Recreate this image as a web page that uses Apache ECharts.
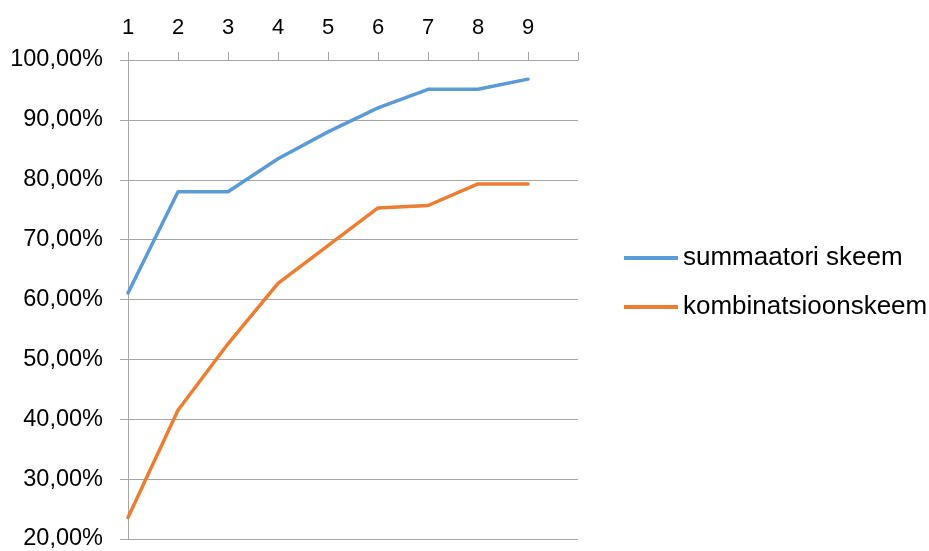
<!DOCTYPE html>
<html>
<head>
<meta charset="utf-8">
<script src="https://cdn.jsdelivr.net/npm/echarts@6/dist/echarts.min.js"></script>
<style>
html,body{margin:0;padding:0;background:#fff;}
#chart{width:929px;height:551px;}
</style>
</head>
<body>
<div id="chart"></div>
<script>
const categories = ['1','2','3','4','5','6','7','8','9',''];
const seriesNames = ['summaatori skeem','kombinatsioonskeem'];
const summaatori = [61.1, 78.0, 78.0, 83.5, 88.0, 92.0, 95.1, 95.1, 96.8];
const kombinatsioon = [23.6, 41.5, 52.6, 62.7, 69.0, 75.3, 75.7, 79.3, 79.3];
const yTicks = {min: 20, max: 100, interval: 10};

const font = 'Liberation Sans';
const chart = echarts.init(document.getElementById('chart'), null, {renderer:'canvas'});
chart.setOption({
  backgroundColor: '#ffffff',
  animation: false,
  grid: {left: 128, right: 351, top: 60, bottom: 11, containLabel: false},
  legend: {
    orient: 'vertical',
    left: 624,
    top: 245,
    padding: 0,
    itemWidth: 54,
    itemHeight: 4,
    itemGap: 23,
    icon: 'rect',
    textStyle: {fontFamily: font, fontSize: 26, color: '#000', lineHeight: 26},
    data: seriesNames
  },
  xAxis: {
    type: 'category',
    position: 'top',
    boundaryGap: false,
    data: categories,
    axisLine: {show: true, lineStyle: {color: '#a6a6a6', width: 1}},
    axisTick: {show: true, length: 8, lineStyle: {color: '#a6a6a6'}},
    axisLabel: {fontFamily: font, fontSize: 22, color: '#000', margin: 21, interval: 0},
    splitLine: {show: false}
  },
  yAxis: {
    type: 'value',
    min: yTicks.min,
    max: yTicks.max,
    interval: yTicks.interval,
    axisLine: {show: true, lineStyle: {color: '#a6a6a6', width: 1}},
    axisTick: {show: true, length: 8, lineStyle: {color: '#a6a6a6'}},
    axisLabel: {
      fontFamily: font, fontSize: 23.5, color: '#000', margin: 25,
      formatter: v => v.toFixed(2).replace('.', ',') + '%'
    },
    splitLine: {show: true, lineStyle: {color: '#a6a6a6', width: 1}}
  },
  series: [
    {
      name: seriesNames[0], type: 'line', data: summaatori,
      showSymbol: false, symbol: 'none',
      lineStyle: {color: '#5b9bd5', width: 3.5, cap: 'round', join: 'round'},
      itemStyle: {color: '#5b9bd5'}
    },
    {
      name: seriesNames[1], type: 'line', data: kombinatsioon,
      showSymbol: false, symbol: 'none',
      lineStyle: {color: '#ed7d31', width: 3.5, cap: 'round', join: 'round'},
      itemStyle: {color: '#ed7d31'}
    }
  ]
});
</script>
</body>
</html>
